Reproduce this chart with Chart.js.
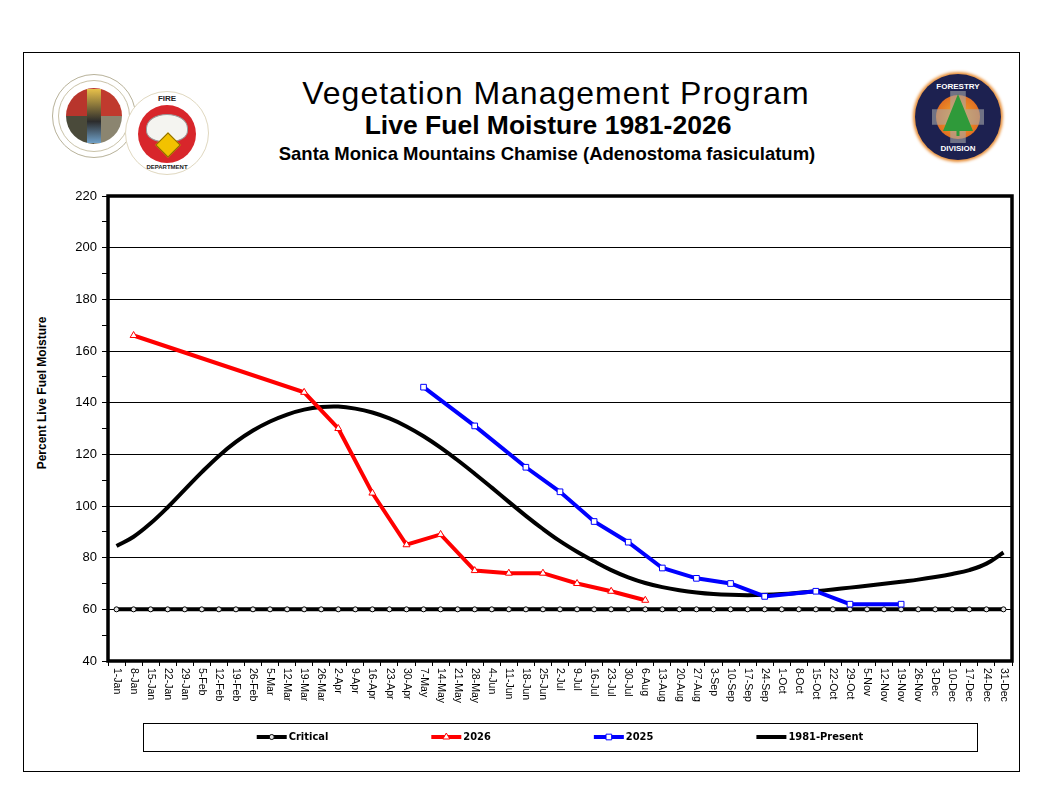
<!DOCTYPE html>
<html>
<head>
<meta charset="utf-8">
<title>Live Fuel Moisture 1981-2026</title>
<script src="https://cdn.jsdelivr.net/npm/chart.js@4.4.1/dist/chart.umd.min.js"></script>
<style>
  body { margin: 0; background: #fff; font-family: 'Liberation Sans', Arial, sans-serif; }
  #page { position: relative; width: 1056px; height: 808px; overflow: hidden; }
  #frame { position: absolute; left: 23px; top: 52px; width: 995px; height: 718px; border: 1px solid #000; }
  .title { position: absolute; width: 1000px; text-align: center; line-height: 1; color: #000; white-space: nowrap; }
  #t1 { left: 56px; top: 77px; font-size: 32px; letter-spacing: 1px; }
  #t2 { left: 48px; top: 112px; font-size: 26.5px; font-weight: bold; }
  #t3 { left: 47px; top: 145px; font-size: 18.5px; font-weight: bold; }
  #ytitle { position: absolute; left: -58px; top: 386px; width: 200px; height: 14px; line-height: 14px;
            text-align: center; font-size: 12px; font-weight: bold; transform: rotate(-90deg); }
  .logo { position: absolute; border-radius: 50%; }
  #seal { left: 52px; top: 74px; width: 84px; height: 84px; background: #fff; border: 1px solid #b8b29a; box-sizing: border-box; }
  #seal .ring { position: absolute; left: 5px; top: 5px; width: 72px; height: 72px; border-radius: 50%; border: 1px solid #c9c2a8; box-sizing: border-box; }
  #seal .quad { position: absolute; left: 13px; top: 13px; width: 56px; height: 56px; border-radius: 50%;
                background: conic-gradient(#c03a2e 0 25%, #8b8570 25% 50%, #4a4a3a 50% 75%, #b8352c 75% 100%); }
  #seal .fig { position: absolute; left: 34px; top: 14px; width: 14px; height: 54px; background: linear-gradient(#e7c04a, #2c2c2c 60%, #6fa0c8); }
  #fire { left: 125px; top: 91px; width: 84px; height: 84px; background: #fff; border: 1px solid #e0d8c0; box-sizing: border-box; }
  #fire .red { position: absolute; left: 12px; top: 13px; width: 58px; height: 58px; border-radius: 50%; background: #d8262b; }
  #fire .helmet { position: absolute; left: 20px; top: 22px; width: 40px; height: 26px; border-radius: 50% 50% 40% 40%; background: #f4f4f0; border: 1px solid #999; }
  #fire .badge { position: absolute; left: 33px; top: 44px; width: 16px; height: 16px; background: #f2c200; transform: rotate(45deg); border: 1px solid #8a6d00; }
  #fire .txt { position: absolute; left: 0; width: 82px; text-align: center; font-weight: bold; color: #222; }
  #forest { left: 915px; top: 74px; width: 86px; height: 86px; background: #1d2150; box-shadow: 0 0 3px 2px #e8903a; }
  #forest .sun { position: absolute; left: 21px; top: 21px; width: 44px; height: 44px; border-radius: 50%; background: radial-gradient(#f7b230, #d8531c); }
  #forest .cross { position: absolute; left: 17px; top: 17px; width: 52px; height: 52px; background: #a8a8a8; clip-path: polygon(35% 0, 65% 0, 65% 35%, 100% 35%, 100% 65%, 65% 65%, 65% 100%, 35% 100%, 35% 65%, 0 65%, 0 35%, 35% 35%); opacity: 0.6; }
  #forest .tree { position: absolute; left: 28px; top: 20px; width: 30px; height: 42px; background: #2f9a3a; clip-path: polygon(50% 0, 100% 88%, 55% 88%, 55% 100%, 45% 100%, 45% 88%, 0 88%); }
  #forest .txt { position: absolute; left: 0; width: 86px; text-align: center; font-size: 8px; font-weight: bold; color: #fff; }
  canvas { position: absolute; left: 0; top: 0; }
</style>
</head>
<body>
<div id="page">
  <div id="frame"></div>

  <div class="logo" id="seal"><div class="ring"></div><div class="quad"></div><div class="fig"></div></div>
  <div class="logo" id="fire">
    <div class="txt" style="top:2px;font-size:8px;">FIRE</div>
    <div class="red"></div><div class="helmet"></div><div class="badge"></div>
    <div class="txt" style="top:72px;font-size:6px;">DEPARTMENT</div>
  </div>
  <div class="logo" id="forest">
    <div class="sun"></div><div class="cross"></div><div class="tree"></div>
    <div class="txt" style="top:8px;">FORESTRY</div>
    <div class="txt" style="top:70px;">DIVISION</div>
  </div>

  <div class="title" id="t1">Vegetation Management Program</div>
  <div class="title" id="t2">Live Fuel Moisture 1981-2026</div>
  <div class="title" id="t3">Santa Monica Mountains Chamise (Adenostoma fasiculatum)</div>
  <div id="ytitle">Percent Live Fuel Moisture</div>

  <canvas id="fuelChart" width="1056" height="808"></canvas>
</div>

<script>
// weekly sampling dates along the x axis
const weekLabels = [
    "1-Jan", "8-Jan", "15-Jan", "22-Jan", "29-Jan", "5-Feb", "12-Feb", "19-Feb", "26-Feb",
    "5-Mar", "12-Mar", "19-Mar", "26-Mar", "2-Apr", "9-Apr", "16-Apr", "23-Apr", "30-Apr",
    "7-May", "14-May", "21-May", "28-May", "4-Jun", "11-Jun", "18-Jun", "25-Jun",
    "2-Jul", "9-Jul", "16-Jul", "23-Jul", "30-Jul", "6-Aug", "13-Aug", "20-Aug", "27-Aug",
    "3-Sep", "10-Sep", "17-Sep", "24-Sep", "1-Oct", "8-Oct", "15-Oct", "22-Oct", "29-Oct",
    "5-Nov", "12-Nov", "19-Nov", "26-Nov", "3-Dec", "10-Dec", "17-Dec", "24-Dec", "31-Dec"
];

const criticalLevel = 60;

const weeks2026 = ["8-Jan", "19-Mar", "2-Apr", "16-Apr", "30-Apr", "14-May", "28-May", "11-Jun", "25-Jun", "9-Jul", "23-Jul", "6-Aug"];
const moisture2026 = [166, 144, 130, 105, 85, 89, 75, 74, 74, 70, 67, 63.5];

const weeks2025 = ["7-May", "28-May", "18-Jun", "2-Jul", "16-Jul", "30-Jul", "13-Aug", "27-Aug", "10-Sep", "24-Sep", "15-Oct", "29-Oct", "19-Nov"];
const moisture2025 = [146, 131, 115, 105.5, 94, 86, 76, 72, 70, 65, 67, 62, 62];

// 1981-present weekly average
const moistureAverage = [
    84.5, 88.1, 93.3, 99.5, 106.3, 113.1, 119.4, 124.8, 129.2, 132.7, 135.4, 137.3, 138.3,
    138.5, 137.7, 136.2, 133.9, 130.8, 127.0, 122.6, 117.7, 112.5, 107.1, 101.6, 96.2,
    91.1, 86.4, 82.3, 78.6, 75.2, 72.4, 70.2, 68.6, 67.4, 66.5, 65.9, 65.6, 65.5, 65.6,
    65.9, 66.4, 67.0, 67.7, 68.4, 69.1, 69.9, 70.7, 71.5, 72.5, 73.7, 75.2, 77.7, 82
];

const yMin = 40;
const yMax = 220;
const yLabelStep = 20;
const yMinorStep = 10;

const textFont = "'Liberation Sans', Arial, sans-serif";
const legendFont = "bold 11px 'Liberation Sans Narrow', 'DejaVu Sans Condensed', 'Liberation Sans', sans-serif";

function pairUp(weeks, values) {
    return weeks.map((w, i) => ({ x: w, y: values[i] }));
}

function drawMarker(ctx, style, x, y, r) {
    if (Chart.helpers && Chart.helpers.drawPoint) {
        Chart.helpers.drawPoint(ctx, { pointStyle: style, radius: r, rotation: 0, borderWidth: 1 }, x, y);
        return;
    }
    ctx.beginPath();
    if (style === "rect") {
        ctx.rect(x - r * 0.8, y - r * 0.8, r * 1.6, r * 1.6);
    } else if (style === "triangle") {
        ctx.moveTo(x, y - r);
        ctx.lineTo(x + r * 0.9, y + r * 0.6);
        ctx.lineTo(x - r * 0.9, y + r * 0.6);
        ctx.closePath();
    } else {
        ctx.arc(x, y, r, 0, Math.PI * 2);
    }
    ctx.fill();
    ctx.stroke();
}

// thick frame around the plot
const plotFrame = {
    id: "plotFrame",
    afterDatasetsDraw(chart) {
        const { ctx, chartArea: a } = chart;
        ctx.save();
        ctx.strokeStyle = "#000";
        ctx.lineWidth = 3.5;
        ctx.strokeRect(a.left, a.top, a.right - a.left, a.bottom - a.top);
        ctx.restore();
    }
};

// x labels read top to bottom
const weekTicks = {
    id: "weekTicks",
    afterDraw(chart) {
        const { ctx, chartArea: a } = chart;
        const xs = chart.scales.x;
        ctx.save();
        ctx.font = "10.5px " + textFont;
        ctx.fillStyle = "#000";
        ctx.textAlign = "left";
        ctx.textBaseline = "middle";
        weekLabels.forEach((lab, i) => {
            ctx.save();
            ctx.translate(xs.getPixelForValue(i), a.bottom + 7);
            ctx.rotate(Math.PI / 2);
            ctx.fillText(lab, 0, 0);
            ctx.restore();
        });
        ctx.restore();
    }
};

// boxed legend under the axis
const boxLegend = {
    id: "boxLegend",
    afterDraw(chart) {
        const { ctx, chartArea: a } = chart;
        const cx = (a.left + a.right) / 2;
        const top = a.bottom + 62;
        const midY = top + 14;
        const lineLen = 30;
        const gap = 103;
        ctx.save();
        ctx.strokeStyle = "#000";
        ctx.lineWidth = 1;
        ctx.strokeRect(Math.round(cx - 417) + 0.5, top + 0.5, 834, 28);

        ctx.font = legendFont;
        ctx.textBaseline = "middle";
        ctx.textAlign = "left";
        const sets = chart.data.datasets;
        const widths = sets.map(d => lineLen + 2 + ctx.measureText(d.label).width);
        const total = widths.reduce((s, w) => s + w, 0) + gap * (sets.length - 1);
        let x = cx - total / 2;
        sets.forEach((d, i) => {
            ctx.strokeStyle = d.borderColor;
            ctx.lineWidth = 4;
            ctx.beginPath();
            ctx.moveTo(x, midY);
            ctx.lineTo(x + lineLen, midY);
            ctx.stroke();
            if (d.pointRadius > 0) {
                ctx.lineWidth = 1;
                ctx.strokeStyle = d.pointBorderColor;
                ctx.fillStyle = d.pointBackgroundColor;
                drawMarker(ctx, d.pointStyle, x + lineLen / 2, midY, d.pointRadius);
            }
            ctx.fillStyle = "#000";
            ctx.fillText(d.label, x + lineLen + 2, midY + 0.5);
            x += widths[i] + gap;
        });
        ctx.restore();
    }
};

document.addEventListener("DOMContentLoaded", function () {
    const ctx = document.getElementById("fuelChart");
    new Chart(ctx, {
        type: "line",
        data: {
            labels: weekLabels,
            datasets: [
                {
                    label: "Critical",
                    data: weekLabels.map(() => criticalLevel),
                    borderColor: "#000000",
                    borderWidth: 4,
                    pointStyle: "circle",
                    pointRadius: 2.5,
                    pointBorderWidth: 1,
                    pointBorderColor: "#000000",
                    pointBackgroundColor: "#e6e6e6",
                    order: 4
                },
                {
                    label: "2026",
                    data: pairUp(weeks2026, moisture2026),
                    borderColor: "#ff0000",
                    borderWidth: 4,
                    pointStyle: "triangle",
                    pointRadius: 4,
                    pointBorderWidth: 1,
                    pointBorderColor: "#ff0000",
                    pointBackgroundColor: "#ffffff",
                    order: 1
                },
                {
                    label: "2025",
                    data: pairUp(weeks2025, moisture2025),
                    borderColor: "#0000ff",
                    borderWidth: 4,
                    pointStyle: "rect",
                    pointRadius: 4,
                    pointBorderWidth: 1,
                    pointBorderColor: "#0000ff",
                    pointBackgroundColor: "#ffffff",
                    order: 2
                },
                {
                    label: "1981-Present",
                    data: moistureAverage,
                    borderColor: "#000000",
                    borderWidth: 4,
                    pointRadius: 0,
                    tension: 0.4,
                    order: 3
                }
            ]
        },
        options: {
            responsive: false,
            animation: false,
            layout: {
                padding: { left: 68, right: 44, top: 196, bottom: 0 }
            },
            plugins: {
                legend: { display: false },
                tooltip: { enabled: false }
            },
            scales: {
                x: {
                    type: "category",
                    offset: true,
                    border: { display: false },
                    grid: {
                        offset: true,
                        drawOnChartArea: false,
                        tickLength: 5,
                        color: "#000"
                    },
                    ticks: { display: false },
                    afterFit(scale) {
                        scale.height = 147;
                    }
                },
                y: {
                    min: yMin,
                    max: yMax,
                    border: { display: false },
                    grid: {
                        color: c => (c.tick && c.tick.value % yLabelStep === 0 ? "#000" : "rgba(0,0,0,0)"),
                        tickColor: "#000",
                        tickLength: 6,
                        lineWidth: 1
                    },
                    ticks: {
                        stepSize: yMinorStep,
                        padding: 5,
                        color: "#000",
                        font: { family: textFont, size: 13 },
                        callback: v => (v % yLabelStep === 0 ? v : "")
                    },
                    afterFit(scale) {
                        scale.width = 40;
                    }
                }
            }
        },
        plugins: [plotFrame, weekTicks, boxLegend]
    });
});
</script>
</body>
</html>
